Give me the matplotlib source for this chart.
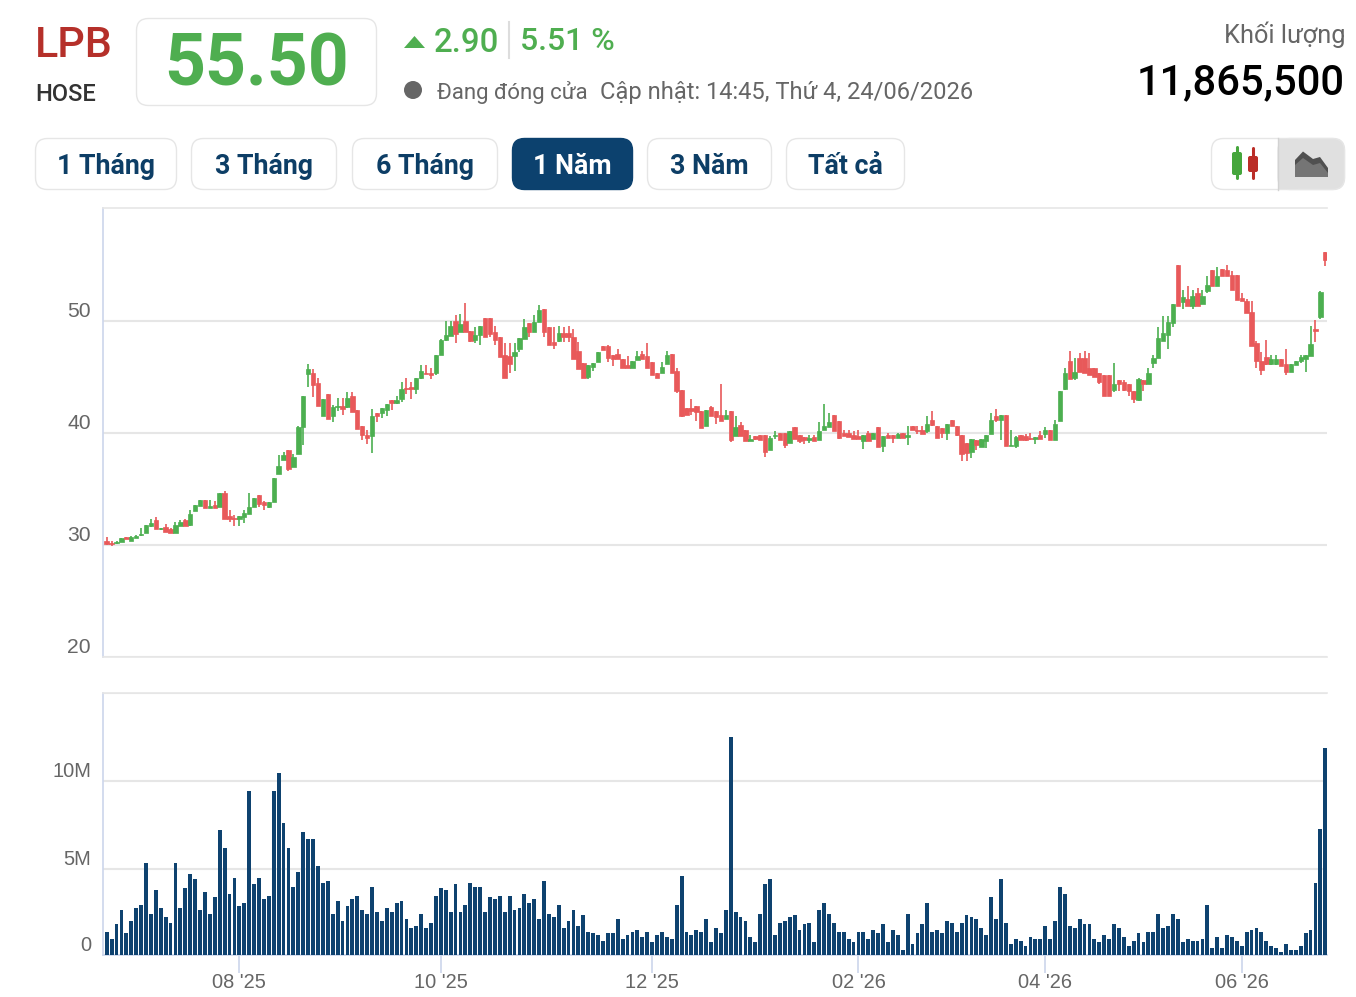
import matplotlib
matplotlib.use('Agg')
import matplotlib.pyplot as plt
from matplotlib.patches import FancyBboxPatch, Polygon, Circle, Rectangle
from matplotlib.transforms import ScaledTranslation

# daily prices, thousand VND
opens = [
    30.4,30.2,30.2,30.3,30.7,30.4,30.6,30.9,31.05,31.7,
    32.2,31.4,31.65,31.4,31.05,31.7,32.2,31.8,33.0,33.5,
    34.0,33.3,33.6,33.4,34.65,32.55,32.45,32.3,32.5,32.8,
    33.4,34.5,33.8,33.4,33.8,36.3,37.6,38.5,36.95,38.1,
    40.55,45.25,45.4,44.45,41.5,43.45,41.5,42.3,42.45,42.35,
    43.35,42.05,40.6,39.85,39.75,41.75,41.75,42.1,42.95,42.7,
    43.05,44.05,44.1,43.95,44.9,45.4,45.4,45.35,46.95,48.35,
    48.7,50.05,49.0,50.05,49.1,48.35,48.8,50.3,50.3,49.05,
    48.6,47.0,46.85,46.9,47.55,48.4,49.8,49.0,49.95,51.05,
    49.45,48.1,48.2,48.95,48.95,48.6,47.35,46.3,45.0,45.9,
    46.35,47.8,47.75,47.0,47.1,46.65,46.05,45.85,46.5,47.05,
    46.9,46.35,45.4,45.4,46.15,47.05,45.5,43.85,42.25,42.25,
    42.45,41.95,40.6,42.35,41.95,41.6,41.25,41.95,39.75,40.7,
    40.3,39.25,39.7,39.85,39.85,38.45,39.7,40,40,39.1,
    40.55,39.85,39.65,39.35,39.65,39.35,40.25,40.55,41.65,41.05,
    40,40,39.85,39.7,39.25,40,39.45,40.55,38.8,39.85,
    39.85,39.55,40,39.65,40.65,40.3,40.3,40.15,41.15,40.65,
    40.45,40.05,41.15,40.65,39.85,39.1,38.3,39.35,38.75,39.25,
    39.9,41.5,41.2,41.65,38.8,38.8,39.85,39.7,39.55,39.45,
    39.85,39.9,40.3,39.35,41.05,43.95,46.4,44.95,46.7,46.7,
    45.85,45.85,45.35,45.2,45.2,43.85,44.75,44.55,44.4,43.8,
    42.95,44.75,44.4,46.25,46.7,48.25,48.8,49.8,55.0,51.7,
    51.95,51.35,52.5,51.5,52.7,54.55,53.15,54.65,54.55,54.1,
    54.1,52.05,51.8,50.85,48.0,46.45,46.8,46.15,46.15,46.65,
    46.15,45.45,46.1,46.4,46.6,46.9,49.3,50.35,56.2]
highs = [
    30.7,30.4,30.4,30.6,30.7,30.8,30.9,31.5,31.8,32.3,
    32.5,31.5,31.85,31.5,32.1,32.25,32.35,33.1,33.6,34.0,
    34.0,34.05,33.95,34.65,34.85,33.1,32.7,32.6,33.1,34.65,
    34.2,34.5,33.9,33.8,36.0,38.0,38.3,38.5,38.15,40.6,
    43.3,46.15,45.7,44.9,43.05,43.45,42.5,43.15,43.15,43.65,
    43.65,42.05,40.6,40.3,42.15,41.75,42.25,42.6,42.95,43.3,
    44.6,44.9,44.55,44.9,46.05,46.05,45.85,46.95,48.4,50.05,
    50.05,50.55,50.65,51.65,49.1,49.45,49.6,50.3,50.3,49.6,
    48.6,48.0,48.0,48.0,48.5,50.2,49.8,50.55,51.45,51.05,
    49.45,49.5,49.55,49.45,49.6,49.3,48.1,46.3,46.1,46.3,
    47.2,47.8,47.85,47.0,47.5,46.65,46.9,46.45,47.35,47.35,
    48.0,46.35,45.4,46.35,47.35,47.05,45.85,43.85,42.25,43.05,
    42.45,41.95,42.1,42.4,41.95,44.4,42.05,41.95,41.5,40.95,
    40.3,39.85,39.7,39.85,39.85,39.7,40.15,40,40,40.15,
    40.55,39.85,39.65,39.85,39.85,41.0,42.6,41.8,41.65,41.05,
    40.3,40.3,40.15,40.25,39.85,40.15,40,40.55,39.7,40,
    39.85,40,40,40.6,40.65,40.6,40.6,41.5,41.95,40.65,
    40.45,40.85,41.15,40.65,39.85,39.1,39.5,39.35,39.45,39.85,
    41.8,42.15,41.65,41.65,40.3,39.7,39.85,39.95,40,39.65,
    40.2,40.55,40.3,41.2,43.75,45.85,47.3,46.7,47.15,47.3,
    47.15,45.85,45.35,45.2,45.2,46.25,44.75,44.75,44.4,43.8,
    44.9,44.75,45.85,47.0,49.45,50.45,50.45,51.5,55.0,52.75,
    53.1,52.75,52.95,52.75,54.05,54.55,54.85,54.65,55.0,54.5,
    54.1,52.5,51.95,51.8,48.25,47.2,48.3,47.0,47.0,46.65,
    47.5,46.15,46.45,47.0,47.0,49.55,50.1,52.65,56.2]
lows = [
    30.0,29.9,30.1,30.3,30.5,30.4,30.6,30.8,31.05,31.6,
    31.4,31.35,31.2,31.05,31.05,31.7,31.7,31.7,33.0,33.5,
    33.3,33.3,33.3,33.4,32.35,32.05,31.7,31.7,32.0,32.8,
    33.4,33.4,33.15,33.3,33.8,36.3,37.6,36.6,36.95,38.1,
    38.9,44.15,43.2,42.4,41.5,41.25,41.0,42.0,41.65,42.25,
    41.9,40.35,39.4,39.05,38.2,40.95,41.35,41.55,42.05,42.6,
    42.75,43.5,43.05,43.5,44.8,45.3,44.85,45.2,46.95,48.25,
    48.7,48.05,49.0,49.0,48.1,48.05,47.9,48.55,48.55,47.9,
    46.75,44.9,45.35,45.5,47.25,48.4,48.55,49.0,49.95,48.55,
    47.9,47.55,48.1,48.1,48.1,46.65,45.7,44.9,44.85,45.5,
    46.35,47.4,46.35,45.95,46.65,45.85,45.85,45.85,46.5,46.65,
    45.8,45.15,44.9,45.35,46.15,45.4,43.6,41.4,41.6,41.65,
    41.1,40.45,40.6,41.5,40.8,41.05,41.25,39.2,39.7,39.75,
    39.25,39.25,39.35,39.35,37.85,38.45,39.45,39.4,38.7,39.1,
    39.5,39.1,39.05,39.1,39.25,39.35,40.25,40.55,40.15,39.45,
    39.75,39.65,39.45,39.45,38.6,39.25,39.45,38.75,38.3,39.55,
    39.1,39.55,39.55,38.95,40.25,39.9,39.95,40,40.6,39.55,
    39.55,39.4,40.6,39.7,37.5,37.5,37.75,38.45,38.75,38.7,
    39.9,41.0,39.4,38.8,38.8,38.65,39.4,39.25,39.35,39.05,
    39.5,39.6,39.35,39.35,41.05,43.85,44.8,44.7,45.45,45.35,
    45.15,45.0,44.4,43.35,43.35,43.65,43.8,43.8,43.35,42.7,
    42.9,43.8,44.4,45.8,46.7,48.25,47.5,49.45,51.35,51.05,
    51.35,51.05,51.35,51.5,52.55,53.1,53.15,54.0,54.0,52.8,
    51.85,51.75,50.7,47.8,45.8,45.15,46.1,46.1,46.1,45.95,
    45.15,45.45,46.1,46.3,45.45,46.9,48.15,50.2,54.9]
closes = [
    30.1,30.1,30.3,30.6,30.5,30.7,30.85,31.0,31.8,31.95,
    31.4,31.5,31.2,31.05,31.8,32.05,31.7,32.8,33.6,34.0,
    33.3,33.5,33.3,34.65,32.35,32.35,32.35,32.55,32.9,33.4,
    34.2,33.7,33.55,33.8,36.0,37.05,38.0,36.75,37.9,40.5,
    43.3,45.7,44.3,42.4,43.05,41.25,42.35,42.45,42.15,43.15,
    41.9,40.35,39.85,39.6,41.55,41.55,42.25,42.6,42.7,42.95,
    43.95,43.9,43.95,44.9,45.5,45.3,45.2,46.95,48.35,48.8,
    49.6,48.85,49.75,49.0,48.25,48.8,49.6,48.55,48.85,48.35,
    46.75,44.9,46.15,47.2,48.5,49.5,49.0,49.9,51.0,49.0,
    47.9,47.85,48.95,48.55,48.55,46.65,45.7,44.9,46.05,46.3,
    47.2,47.4,46.7,46.65,46.65,45.85,45.85,46.45,46.85,46.65,
    45.8,45.15,44.9,45.9,46.95,45.4,43.8,41.5,41.65,41.95,
    41.9,40.45,42.1,41.5,41.45,41.05,41.65,39.35,40.5,39.75,
    39.25,39.5,39.45,39.35,38.3,39.55,39.85,39.4,38.95,40.15,
    39.5,39.25,39.35,39.55,39.25,40.15,40.6,41.0,40.15,39.55,
    39.75,39.65,39.45,39.45,39.85,39.25,40,38.75,39.7,39.55,
    39.55,39.9,39.55,39.85,40.25,40.15,39.95,40.85,40.75,39.55,
    40,40.85,40.6,39.85,38.15,38.2,39.5,38.95,39.45,39.85,
    41.15,41.15,41.65,38.8,38.95,39.65,39.4,39.4,39.45,39.65,
    39.5,40.3,39.35,40.85,43.75,45.35,44.8,45.45,45.45,45.35,
    45.15,45.0,44.55,43.35,43.35,44.4,44.35,43.85,43.8,43.05,
    44.8,44.35,45.35,46.7,48.45,48.9,49.95,51.5,51.35,52.15,
    51.35,52.25,51.35,52.25,53.25,53.15,54.05,54.0,54.0,52.8,
    51.85,51.75,50.7,47.8,46.4,45.6,46.2,46.6,46.6,45.95,
    45.45,46.15,46.45,46.8,46.95,47.95,49.15,52.6,55.5]

# daily volume, millions of shares
volumes = [
    1.48,1.06,1.89,2.71,1.38,2.10,2.80,3.01,5.36,2.50,
    3.82,2.80,2.29,1.99,5.36,2.80,3.94,4.75,4.45,2.71,
    3.73,2.50,3.43,7.21,6.19,3.63,4.54,2.92,3.12,9.45,
    4.15,4.54,3.31,3.52,9.45,10.47,7.61,6.19,4.03,4.87,
    7.10,6.70,6.70,5.17,4.24,4.34,2.50,3.22,2.10,2.92,
    3.31,3.52,2.71,2.50,4.03,2.61,2.10,2.80,2.61,3.12,
    3.22,2.20,
    1.68,1.78,2.50,1.68,1.99,3.52,3.94,3.82,2.61,4.15,
    2.61,3.01,4.24,4.03,4.03,2.61,3.43,3.31,3.52,2.61,
    3.52,2.71,2.80,3.63,3.12,3.31,2.20,4.34,2.50,2.29,
    3.01,1.68,2.10,2.71,1.78,2.40,1.48,1.38,1.27,0.96,
    1.38,1.38,2.20,1.06,1.27,1.48,1.57,1.17,1.48,0.87,
    1.27,1.48,1.17,1.06,3.01,4.64,1.48,1.27,1.57,1.48,
    2.20,0.87,1.68,1.38,2.71,
    12.52,2.61,2.29,2.10,1.17,0.87,2.50,4.15,4.45,1.27,
    1.99,2.10,2.29,2.40,1.57,1.89,1.99,0.87,2.71,3.12,
    2.50,1.99,1.48,1.48,1.06,0.87,1.48,1.48,1.06,1.57,
    1.38,1.89,0.87,1.57,1.27,0.45,2.50,0.76,1.38,1.89,
    3.12,1.48,1.57,1.38,2.10,1.99,1.48,1.99,2.40,2.29,
    2.20,1.68,1.27,3.43,2.20,4.45,1.99,0.76,1.06,0.96,
    0.66,1.17,
    1.06,1.06,1.78,1.06,2.10,4.03,3.63,1.78,1.68,2.20,
    1.89,1.89,1.06,0.87,1.27,1.06,1.89,1.68,1.17,0.66,
    0.96,1.38,0.87,1.48,1.48,2.50,1.68,1.78,2.50,2.20,
    0.87,1.06,0.96,0.96,1.06,3.01,0.55,1.17,0.55,1.27,
    1.17,0.96,0.66,1.48,1.57,1.68,1.48,0.96,0.66,0.55,
    0.34,0.76,0.45,0.45,0.66,1.38,1.57,4.24,7.31,11.8655]

month_pos = [27, 68, 111, 153, 191, 231]
month_labels = ["08 '25", "10 '25", "12 '25", "02 '26", "04 '26", "06 '26"]
price_ticks = [20, 30, 40, 50]
vol_ticks = [0.15, 5, 10, 15]
vol_labels = ['0', '5M', '10M', '']
range_buttons = ['1 Tháng', '3 Tháng', '6 Tháng', '1 Năm', '3 Năm', 'Tất cả']
active_range = '1 Năm'

W, H = 1356, 997
GREEN = '#4caf50'
RED = '#e8595a'
NAVY = '#0e426f'
GRID = '#e6e6e6'
AXIS = '#ccd6eb'
UI_FONT = 'Roboto'
AX_FONT = 'Liberation Sans'

fig = plt.figure(figsize=(W / 100, H / 100), dpi=100, facecolor='white')


def axes_px(left, top, right, bottom):
    return fig.add_axes([left / W, 1 - bottom / H, (right - left) / W, (bottom - top) / H])


ax_p = axes_px(103, 208, 1327, 657)
ax_v = axes_px(103, 693, 1327, 955)
xs = list(range(len(closes)))

# candles
up = [c >= o for o, c in zip(opens, closes)]
colors = [GREEN if u else RED for u in up]
bottoms = [min(o, c) for o, c in zip(opens, closes)]
heights = [abs(c - o) for o, c in zip(opens, closes)]
ax_p.vlines(xs, lows, highs, colors=colors, linewidth=1.2, zorder=3)
ax_p.bar(xs, heights, bottom=bottoms, width=0.9, color=colors, edgecolor=colors, linewidth=0.5, zorder=4)

# volume
ax_v.bar(xs, volumes, width=0.78, color=NAVY, zorder=3)

for ax in (ax_p, ax_v):
    ax.set_xlim(-0.75, len(closes) - 1 + 0.35)
    ax.grid(True, axis='y', color=GRID, linewidth=1.5, zorder=1)
    ax.set_axisbelow(True)
    for side in ('top', 'right', 'bottom'):
        ax.spines[side].set_color(GRID)
        ax.spines[side].set_linewidth(1.2)
    ax.spines['right'].set_visible(False)
    ax.spines['left'].set_color(AXIS)
    ax.spines['left'].set_linewidth(1.2)

ax_p.set_ylim(20, 60.1)
ax_p.set_yticks(price_ticks)
ax_p.set_yticklabels([str(t) for t in price_ticks])
ax_p.set_xticks([])

ax_v.set_ylim(0.15, 14.98)
ax_v.set_yticks(vol_ticks)
ax_v.set_yticklabels(vol_labels)
ax_v.spines['bottom'].set_color(AXIS)
ax_v.set_xticks(month_pos)
ax_v.set_xticklabels(month_labels)
ax_v.tick_params(axis='x', length=13, width=1.2, color=AXIS, pad=0, labelsize=14.4,
                 labelcolor='#666666')

# value labels sit just above their grid lines
ax_p.tick_params(axis='y', length=0, pad=8.6, labelsize=15.2, labelcolor='#666666')
ax_v.tick_params(axis='y', length=0, pad=8.6, labelsize=14.4, labelcolor='#666666')
for ax in (ax_p, ax_v):
    for lab in ax.get_yticklabels():
        lab.set_transform(lab.get_transform() + ScaledTranslation(0, 11.5 / 100, fig.dpi_scale_trans))
    for lab in ax.get_yticklabels() + ax.get_xticklabels():
        lab.set_fontfamily(AX_FONT)

# header and controls, laid out in pixels
ui = fig.add_axes([0, 0, 1, 1], zorder=5)
ui.set_xlim(0, W)
ui.set_ylim(H, 0)
ui.axis('off')
ui.patch.set_alpha(0)


def box(x0, y0, x1, y1, fc='white', ec=GRID, r=12):
    ui.add_patch(FancyBboxPatch((x0 + r, y0 + r), x1 - x0 - 2 * r, y1 - y0 - 2 * r,
                                boxstyle='round,pad=%d,rounding_size=%d' % (r, r),
                                fc=fc, ec=ec, lw=1))


def label(x, y, s, size, color, ha='left', weight='normal'):
    ui.text(x, y, s, fontsize=size, color=color, ha=ha, va='center_baseline',
            family=UI_FONT, fontweight=weight)


label(35, 41, 'LPB', 31, '#b5302a', weight='medium')
label(35, 92, 'HOSE', 17, '#333333', weight='medium')
box(136.5, 18.5, 376.5, 105.5)
label(257, 58, '55.50', 51.5, '#4fae50', ha='center', weight='bold')

ui.add_patch(Polygon([(404, 48), (414.5, 36), (425, 48)], closed=True, fc='#4fae50', ec='none'))
label(434, 39, '2.90', 23.7, '#4fae50', weight='medium')
ui.plot([509, 509], [22, 58], color='#dddddd', lw=1.5)
label(520, 39, '5.51 %', 23, '#4fae50', weight='medium')
ui.add_patch(Circle((413, 90), 9, fc='#666666', ec='none'))
label(437, 90, 'Đang đóng cửa', 16, '#666666')
label(600, 90, 'Cập nhật: 14:45, Thứ 4, 24/06/2026', 17.1, '#666666')
label(1345, 32, 'Khối lượng', 18.3, '#666666', ha='right')
label(1345, 78, '11,865,500', 30.1, 'black', ha='right', weight='medium')

button_edges = [(35, 177), (191, 337), (352, 498), (512, 633), (647, 772), (786, 905)]
for (x0, x1), name in zip(button_edges, range_buttons):
    active = name == active_range
    box(x0 + 0.5, 138.5, x1 - 0.5, 189.5, fc='#0c416e' if active else 'white', ec='#0c416e' if active else GRID)
    label((x0 + x1) / 2, 164, name, 19.3, 'white' if active else '#0d3e66', ha='center', weight='bold')

# chart type toggle
box(1211.5, 138.5, 1344.5, 189.5)
ui.add_patch(FancyBboxPatch((1290, 150.5), 42.5, 27, boxstyle='round,pad=12,rounding_size=12',
                            fc='#e0e0e0', ec=GRID, lw=1))
ui.add_patch(Rectangle((1278, 139), 20, 50, fc='#e0e0e0', ec='none'))
ui.plot([1278, 1278], [138, 190], color='#d2d2d2', lw=1)

ui.plot([1237, 1237], [147, 178], color='#45a63c', lw=2.2, solid_capstyle='round')
ui.add_patch(FancyBboxPatch((1232, 152), 10, 23, boxstyle='round,pad=0,rounding_size=2', fc='#45a63c', ec='none'))
ui.plot([1253, 1253], [148, 178], color='#bb2d27', lw=2.2, solid_capstyle='round')
ui.add_patch(FancyBboxPatch((1248, 156), 10, 16, boxstyle='round,pad=0,rounding_size=2', fc='#bb2d27', ec='none'))

ui.add_patch(Polygon([(1295, 160), (1303, 151.5), (1313, 159), (1320, 157), (1328, 168), (1328, 177), (1295, 177)],
                     closed=True, fc='#505050', ec='none'))
ui.add_patch(Polygon([(1295, 165), (1303, 158), (1313, 165), (1320, 163), (1328, 173), (1328, 177), (1295, 177)],
                     closed=True, fc='#757575', ec='none'))

fig.savefig('out.png', dpi=100, facecolor='white')
